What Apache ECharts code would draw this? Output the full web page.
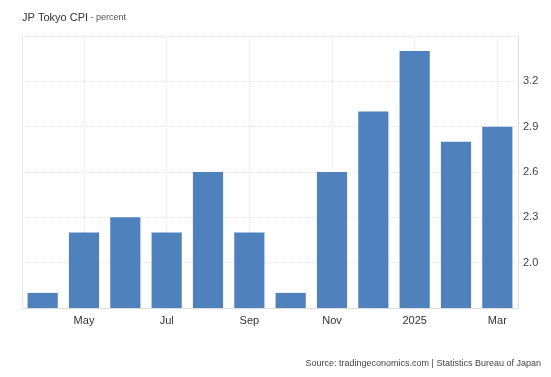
<!DOCTYPE html>
<html>
<head>
<meta charset="utf-8">
<script src="https://cdn.jsdelivr.net/npm/echarts@6/dist/echarts.min.js"></script>
<style>
  html, body { margin: 0; padding: 0; background: #fff; }
  #main { width: 551px; height: 377px; }
</style>
</head>
<body>
<div id="main"></div>
<script>
const months = ['Apr', 'May', 'Jun', 'Jul', 'Aug', 'Sep', 'Oct', 'Nov', 'Dec', '2025', 'Feb', 'Mar'];
const cpi = [1.8, 2.2, 2.3, 2.2, 2.6, 2.2, 1.8, 2.6, 3.0, 3.4, 2.8, 2.9];

var myChart = echarts.init(document.getElementById('main'));
var option = {
    animation: false,
    textStyle: { fontFamily: 'Arial, "Liberation Sans", sans-serif' },
    title: {
        text: '{a|JP Tokyo CPI}{b| - percent}',
        left: 17,
        top: 7,
        textStyle: {
            fontWeight: 'normal',
            rich: {
                a: { fontSize: 11, color: '#333', fontWeight: 'normal' },
                b: { fontSize: 9, color: '#555', fontWeight: 'normal' }
            }
        }
    },
    graphic: [{
        type: 'text',
        right: 10,
        top: 359,
        style: {
            text: 'Source: tradingeconomics.com | Statistics Bureau of Japan',
            fontSize: 9,
            fill: '#444',
            fontFamily: 'Arial, "Liberation Sans", sans-serif'
        }
    }],
    grid: { left: 22, right: 33, top: 36, bottom: 69 },
    xAxis: {
        type: 'category',
        data: months,
        axisLine: { lineStyle: { color: '#ddd' } },
        axisTick: { show: false },
        axisLabel: {
            color: '#333',
            fontSize: 11,
            margin: 7,
            interval: function (i) { return i % 2 === 1; }
        },
        splitLine: {
            show: true,
            alignWithLabel: true,
            interval: function (i) { return i % 2 === 1; },
            lineStyle: { color: '#e3e3e3', type: 'dotted' }
        }
    },
    yAxis: [{
        type: 'value',
        position: 'right',
        min: 1.7,
        max: 3.5,
        interval: 0.3,
        axisLine: { show: true, lineStyle: { color: '#ddd' } },
        axisTick: { show: false },
        axisLabel: {
            color: '#444',
            fontSize: 11,
            margin: 5,
            showMinLabel: false,
            showMaxLabel: false,
            formatter: function (v) { return v.toFixed(1); }
        },
        splitLine: { lineStyle: { color: '#e3e3e3', type: 'dotted' } }
    }, {
        type: 'value',
        position: 'left',
        min: 1.7,
        max: 3.5,
        axisLine: { show: true, lineStyle: { color: '#e3e3e3', type: 'dotted' } },
        axisTick: { show: false },
        axisLabel: { show: false },
        splitLine: { show: false }
    }],
    series: [{
        type: 'bar',
        data: cpi,
        barWidth: '73%',
        itemStyle: { color: '#4f81bd' }
    }]
};
myChart.setOption(option);
</script>
</body>
</html>
